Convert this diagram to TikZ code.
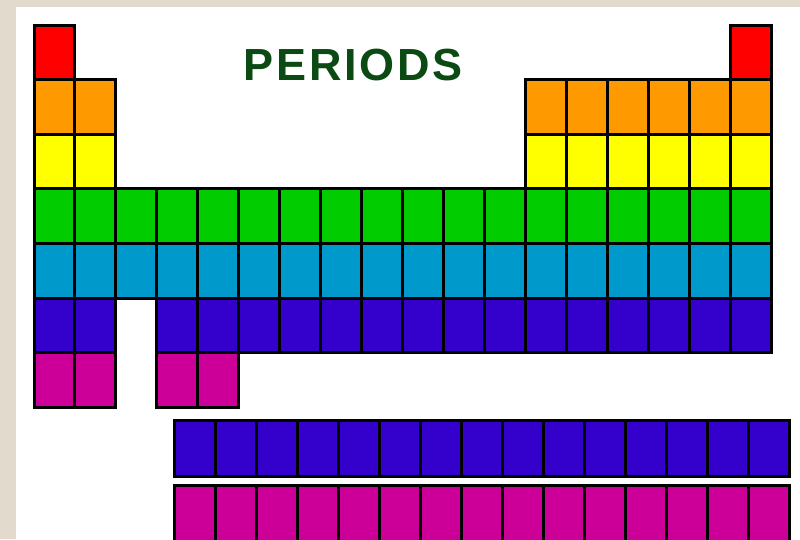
\documentclass[tikz,border=0pt]{standalone}
\usepackage{fontspec}
\setmainfont{Liberation Sans}
\definecolor{paper}{HTML}{E2DACC}
\definecolor{ink}{HTML}{0B4A12}
\definecolor{pred}{HTML}{FF0000}
\definecolor{porange}{HTML}{FF9900}
\definecolor{pyellow}{HTML}{FFFF00}
\definecolor{pgreen}{HTML}{00CC00}
\definecolor{pblue}{HTML}{0099CC}
\definecolor{ppurple}{HTML}{3300CC}
\definecolor{pmagenta}{HTML}{CC0099}

\begin{document}
\begin{tikzpicture}[x=1pt, y=-1pt,
    cell/.style={draw=black, line width=3pt},
    heading/.style={font=\bfseries\fontsize{45}{45}\selectfont\addfontfeature{LetterSpace=6}, text=ink}
]
    \useasboundingbox (0,0) rectangle (800,539);
    \clip (0,0) rectangle (800,539);

    % Sheet
    \fill[paper] (0,0) rectangle (800,539);
    \fill[white] (16,7) rectangle (800,539);

    % Periods 1 to 7
    \foreach \r/\c/\cols in {1/pred/{1,18},
                             2/porange/{1,2,13,14,...,18},
                             3/pyellow/{1,2,13,14,...,18},
                             4/pgreen/{1,...,18},
                             5/pblue/{1,...,18},
                             6/ppurple/{1,2,4,5,...,18},
                             7/pmagenta/{1,2,4,5}}
        \foreach \col in \cols
            \filldraw[cell, fill=\c] ({34+(\col-1)*40.95},{25+(\r-1)*54.6}) rectangle +(40.95,54.6);

    % Lanthanides and actinides
    \foreach \r/\c in {0/ppurple, 1/pmagenta}
        \foreach \col in {0,...,14}
            \filldraw[cell, fill=\c] ({174+\col*41},{420+\r*65}) rectangle +(41,56);

    \node[heading] (title) at (353,65) {PERIODS};

\end{tikzpicture}
\end{document}
